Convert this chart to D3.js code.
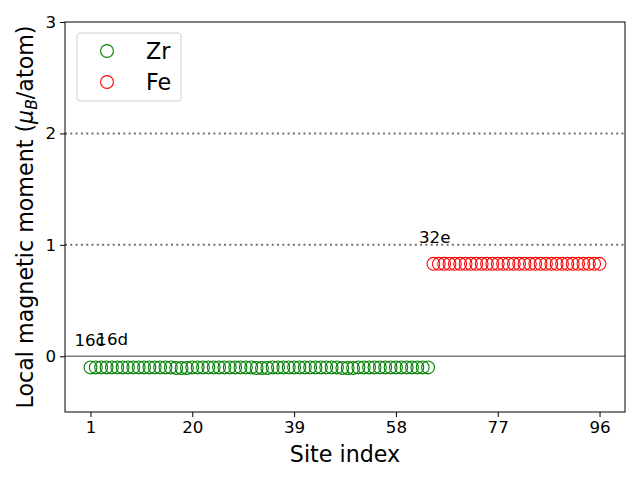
<!DOCTYPE html>
<html><head><meta charset="utf-8">
<script src="https://cdn.jsdelivr.net/npm/d3@7"></script>
<style>body{margin:0;background:#fff}svg{display:block}text{font-family:"DejaVu Sans",sans-serif}</style>
</head><body>
<svg id="c" width="640" height="480"></svg>
<script>
const zrSites = d3.range(1, 65);
const zrMoments = [-0.10,-0.10,-0.10,-0.10,-0.10,-0.10,-0.10,-0.10,-0.10,-0.10,-0.10,-0.10,-0.10,-0.10,-0.10,-0.10,
  -0.105,-0.105,-0.105,-0.10,-0.10,-0.10,-0.10,-0.10,-0.10,-0.10,-0.10,-0.10,-0.10,-0.10,-0.10,-0.105,
  -0.105,-0.105,-0.10,-0.10,-0.10,-0.10,-0.10,-0.10,-0.10,-0.10,-0.10,-0.10,-0.10,-0.10,-0.10,-0.105,
  -0.105,-0.105,-0.10,-0.10,-0.10,-0.10,-0.10,-0.10,-0.10,-0.10,-0.10,-0.10,-0.10,-0.10,-0.10,-0.10];
const feSites = d3.range(65, 97);
const feMoments = [0.83,0.83,0.83,0.83,0.83,0.83,0.83,0.83,0.83,0.83,0.83,0.83,0.83,0.83,0.83,0.83,
  0.83,0.83,0.83,0.83,0.83,0.83,0.83,0.83,0.83,0.83,0.83,0.83,0.83,0.83,0.83,0.83];
const xTicks = [1, 20, 39, 58, 77, 96];
const yTicks = [0, 1, 2, 3];
const refLines = [1, 2];
const annotations = [
  {label: "16c", x: -2.0, y: 0.09},
  {label: "16d", x: 2.1, y: 0.10},
  {label: "32e", x: 62.3, y: 1.02}
];
const seriesNames = ["Zr", "Fe"];
const seriesColors = ["green", "red"];

const svg = d3.select("#c");
const L = 65, R = 625, T = 22, B = 412;
const x = d3.scaleLinear().domain([-3.75, 100.75]).range([L, R]);
const y = d3.scaleLinear().domain([-0.5, 3]).range([B, T]);

// reference lines
svg.selectAll(".ref").data(refLines).enter().append("line")
  .attr("x1", L).attr("x2", R).attr("y1", d => y(d)).attr("y2", d => y(d))
  .attr("stroke", "#707070").attr("stroke-width", 2).attr("stroke-dasharray", "2,3.3");
svg.append("line").attr("x1", L).attr("x2", R).attr("y1", y(0)).attr("y2", y(0))
  .attr("stroke", "#808080").attr("stroke-width", 1.6);

// points
const zrData = zrSites.map((s, i) => ({s, v: zrMoments[i]}));
const feData = feSites.map((s, i) => ({s, v: feMoments[i]}));
svg.append("g").selectAll("circle").data(zrData).enter().append("circle")
  .attr("cx", d => x(d.s)).attr("cy", d => y(d.v)).attr("r", 6.4)
  .attr("fill", "none").attr("stroke", seriesColors[0]).attr("stroke-width", 1.1);
svg.append("g").selectAll("circle").data(feData).enter().append("circle")
  .attr("cx", d => x(d.s)).attr("cy", d => y(d.v)).attr("r", 6.4)
  .attr("fill", "none").attr("stroke", seriesColors[1]).attr("stroke-width", 1.1);

// annotations
svg.selectAll(".ann").data(annotations).enter().append("text")
  .attr("x", d => x(d.x)).attr("y", d => y(d.y))
  .attr("font-size", 16.7).attr("fill", "#000").text(d => d.label);

// axes
const xa = svg.append("g").attr("transform", `translate(0,${B})`)
  .call(d3.axisBottom(x).tickValues(xTicks).tickFormat(d3.format("d")).tickSize(5).tickPadding(4));
const ya = svg.append("g").attr("transform", `translate(${L},0)`)
  .call(d3.axisLeft(y).tickValues(yTicks).tickFormat(d3.format("d")).tickSize(5).tickPadding(4));
[xa, ya].forEach(a => {
  a.select(".domain").remove();
  a.selectAll("text").attr("font-size", 16.7).attr("font-family", "DejaVu Sans").attr("fill", "#000");
  a.selectAll("line").attr("stroke", "#000").attr("stroke-width", 1);
});
svg.append("rect").attr("x", L).attr("y", T).attr("width", R - L).attr("height", B - T)
  .attr("fill", "none").attr("stroke", "#000").attr("stroke-width", 1);

// labels
svg.append("text").attr("x", (L + R) / 2).attr("y", 462).attr("text-anchor", "middle")
  .attr("font-size", 22.2).text("Site index");
const yl = svg.append("text").attr("transform", `translate(33,${(T + B) / 2}) rotate(-90)`)
  .attr("text-anchor", "middle").attr("font-size", 22.2);
yl.append("tspan").text("Local magnetic moment (");
yl.append("tspan").attr("font-style", "italic").text("μ");
yl.append("tspan").attr("font-style", "italic").attr("font-size", 15.5).attr("dy", 4).text("B");
yl.append("tspan").attr("dy", -4).text("/atom)");

// legend
const lg = svg.append("g");
lg.append("rect").attr("x", 77).attr("y", 33).attr("width", 104).attr("height", 68).attr("rx", 3)
  .attr("fill", "#fff").attr("fill-opacity", 0.8).attr("stroke", "#d0d0d0").attr("stroke-width", 1);
seriesNames.forEach((n, i) => {
  lg.append("circle").attr("cx", 107).attr("cy", 51 + i * 31).attr("r", 6.4)
    .attr("fill", "none").attr("stroke", seriesColors[i]).attr("stroke-width", 1.1);
  lg.append("text").attr("x", 146).attr("y", 59 + i * 31).attr("font-size", 22.2).text(n);
});
</script>
</body></html>
